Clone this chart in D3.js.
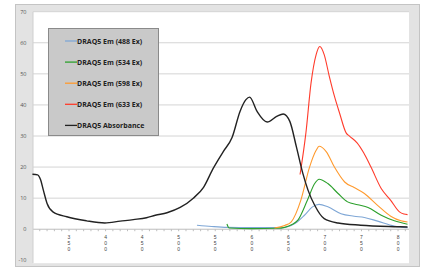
<!DOCTYPE html>
<html>
<head>
<meta charset="utf-8">
<script src="https://cdn.jsdelivr.net/npm/d3@7"></script>
<style>
	body{margin:0;background:#fff;}
	text{font-family:"Open Sans",sans-serif;}
</style>
</head>
<body>
<div id="chart"></div>
<script>

// wavelengths (nm) and values
var absWl  = [300,307,311,315,320,328,347,374,399,420,438,456,468,484,502,520,534,547,561,573,584,592,597,607,621,634,643,652,661,670,677,686,699,718,749,800,813];
var absVal = [17.7,17.5,16.0,12.5,8.3,5.6,4.0,2.7,2.0,2.6,3.1,3.7,4.5,5.3,7.0,10.0,13.5,19.5,25.0,29.5,38.0,41.7,42.5,38.0,34.5,36.3,37.1,34.7,26.5,17.8,12.5,7.7,3.4,2.0,1.3,0.8,0.7];

var em488Wl  = [525,545,566,600,640,649,660,672,683,692,704,722,740,754,772,795,813];
var em488Val = [1.3,0.9,0.6,0.5,0.5,0.8,2.0,4.5,7.2,8.0,7.2,5.0,4.2,3.8,2.6,1.0,0.5];

var em534Wl  = [566,569,600,635,645,655,663,676,686,692,704,718,731,745,759,777,795,813];
var em534Val = [1.7,0.4,0.2,0.3,0.6,1.5,2.9,9.3,14.7,16.1,14.7,11.5,8.8,7.9,7.0,4.5,2.7,1.6];

var em598Wl  = [631,645,654,667,679,688,692,702,713,727,740,754,772,790,804,813];
var em598Val = [0.4,1.2,2.4,9.3,20.0,25.4,26.7,24.9,20.0,15.2,13.4,11.5,7.7,4.2,2.7,2.3];

var em633Wl  = [666,674,681,688,693,699,706,713,720,729,734,744,753,763,777,790,802,808,813];
var em633Val = [17.6,31.0,47.0,56.2,58.8,56.2,49.2,42.8,37.4,31.0,29.9,27.8,24.6,20.0,13.1,9.3,5.6,4.9,4.7];

var seriesNames  = ["DRAQ5 Em (488 Ex)","DRAQ5 Em (534 Ex)","DRAQ5 Em (598 Ex)","DRAQ5 Em (633 Ex)","DRAQ5 Absorbance"];
var seriesColors = ["#7fa7d6","#2ca02c","#ff9a2e","#ff3b2b","#222222"];

var yTicks = [-10,0,10,20,30,40,50,60,70];
var xLabels = [350,400,450,500,550,600,650,700,750,800];

var width=422, height=267;

var svg = d3.select("#chart").append("svg")
	.attr("width", width)
	.attr("height", height);

// outer chart area
svg.append("rect")
	.attr("x",15.5).attr("y",4.5)
	.attr("width",404).attr("height",262)
	.style("fill","#e3e3e3")
	.style("stroke","#c4c4c4");

svg.append("rect")
	.attr("x",33).attr("y",11.7)
	.attr("width",376).attr("height",251.5)
	.style("fill","#fff");

var x = d3.scaleLinear().domain([300,815]).range([32.45,409]);
var y = d3.scaleLinear().domain([-10,70]).range([260.3,11.7]);

// gridlines
svg.selectAll(".grid")
	.data(yTicks.filter(function(d){ return d>0; }))
	.enter().append("line")
	.attr("x1",33).attr("x2",409)
	.attr("y1",function(d){ return y(d); })
	.attr("y2",function(d){ return y(d); })
	.style("stroke","#d4d4d4")
	.style("stroke-width",1);

// y labels
svg.selectAll(".ylab")
	.data(yTicks)
	.enter().append("text")
	.attr("x",26.5)
	.attr("y",function(d){ return y(d)+2; })
	.attr("text-anchor","end")
	.style("font-size","5.5px")
	.style("fill","#555")
	.text(function(d){ return d; });

// axis at zero
svg.append("line")
	.attr("x1",33).attr("x2",409)
	.attr("y1",y(0)).attr("y2",y(0))
	.style("stroke","#bdbdbd");

svg.append("line")
	.attr("x1",33).attr("x2",33)
	.attr("y1",11.7).attr("y2",263)
	.style("stroke","#cfcfcf");

svg.selectAll(".tick")
	.data(d3.range(310,815,10))
	.enter().append("line")
	.attr("x1",function(d){ return x(d); })
	.attr("x2",function(d){ return x(d); })
	.attr("y1",y(0)).attr("y2",y(0)+2)
	.style("stroke","#bdbdbd");

// stacked x labels, one digit per line
xLabels.forEach(function(d){
	String(d).split("").forEach(function(c,i){
		svg.append("text")
		.attr("x",x(d))
		.attr("y",239+i*6)
		.attr("text-anchor","middle")
		.style("font-family","'Liberation Sans',sans-serif")
		.style("font-size","5px")
		.style("fill","#444")
		.text(c);
	});
});

// lines
var line = d3.line()
	.x(function(d){ return x(d[0]); })
	.y(function(d){ return y(d[1]); })
	.curve(d3.curveMonotoneX);

function pairs(a,b){ return a.map(function(w,i){ return [w,b[i]]; }); }

var seriesData = [
	pairs(em488Wl,em488Val),
	pairs(em534Wl,em534Val),
	pairs(em598Wl,em598Val),
	pairs(em633Wl,em633Val),
	pairs(absWl,absVal)];

svg.selectAll(".series")
	.data(seriesData)
	.enter().append("path")
	.attr("d",line)
	.style("fill","none")
	.style("stroke",function(d,i){ return seriesColors[i]; })
	.style("stroke-width",function(d,i){ return i==4 ? 1.4 : 1.1; });

// legend
var lg = svg.append("g");
lg.append("rect")
	.attr("x",48.5).attr("y",28.5)
	.attr("width",110).attr("height",107)
	.style("fill","#c9c9c9")
	.style("stroke","#8a8a8a");

var items = lg.selectAll(".item")
	.data(seriesNames)
	.enter().append("g")
	.attr("transform",function(d,i){ return "translate(0,"+(41+i*21.1)+")"; });

items.append("line")
	.attr("x1",65).attr("x2",77)
	.style("stroke",function(d,i){ return seriesColors[i]; })
	.style("stroke-width",1.3);

items.append("text")
	.attr("x",77).attr("y",2.5)
	.style("font-size","7px")
	.style("font-weight","bold")
	.style("fill","#222")
	.text(function(d){ return d; });

</script>
</body>
</html>
